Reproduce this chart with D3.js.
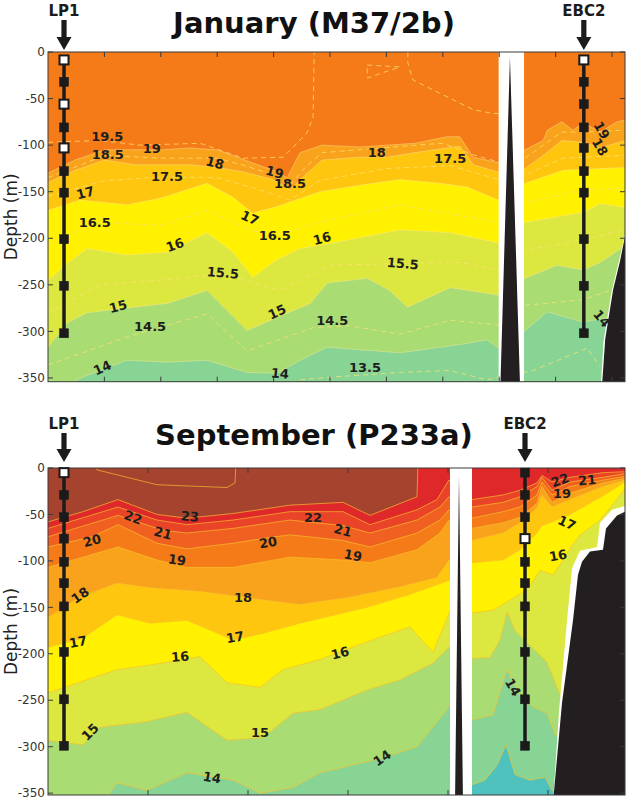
<!DOCTYPE html>
<html><head><meta charset="utf-8">
<script src="https://cdn.jsdelivr.net/npm/d3@7"></script>
<style>body{margin:0;background:#fff}svg{display:block}</style>
</head><body>
<svg id="chart" width="629" height="800"></svg>
<script>
// ================= DATA =================
// colour of each 1 degC temperature band, keyed by its lower bound
const bandColors = {12:"#4FC2BE",13:"#87D494",14:"#A9DC72",15:"#DCE73F",16:"#FFF100",17:"#FEC60F",
  18:"#F9A21B",19:"#F47B17",20:"#F06021",21:"#E94427",22:"#DF282A",23:"#A6432F"};
const yTicks = [0,-50,-100,-150,-200,-250,-300,-350];

// ---- January (M37/2b) : isotherms as [distance km, depth m] ----
const janTitle = "January (M37/2b)";
const janIso19 = [[0,-130],[4.8,-116],[10.1,-105],[15.4,-105],[20.2,-105],[25.2,-103],[30,-105],[34.9,-116],[39.9,-127],[42.4,-135],[44.7,-108],[48.6,-100],[55.3,-102],[60.1,-100],[65.1,-98],[70.7,-91],[73,-91],[75.4,-113],[79.9,-119],[84.6,-105],[87.8,-95],[88.5,-84],[91.1,-75],[93.1,-84],[94.9,-76],[97.9,-86],[100.9,-75],[102.3,-73]];
const janIso18 = [[0,-140],[4.8,-127],[10.1,-116],[15.4,-121],[20.2,-121],[25.2,-121],[30,-124],[34.9,-129],[39.9,-137],[42.9,-148],[45.6,-132],[48.6,-116],[55.3,-113],[60.1,-113],[65.1,-108],[70.7,-103],[73,-101],[75.4,-121],[79.9,-129],[84.6,-125],[87.8,-111],[91.1,-95],[94.9,-97],[97.9,-103],[102.3,-95]];
const janIso17 = [[0,-170],[5.7,-159],[14,-164],[19.9,-157],[28.2,-141],[32.8,-156],[36.3,-173],[40.6,-166],[48.2,-150],[55.3,-143],[62.4,-137],[69.5,-141],[74.3,-145],[79.9,-159],[84.6,-141],[91.3,-127],[102.3,-124]];
const janIso16 = [[0,-245],[3.4,-227],[6.9,-211],[14,-218],[21.1,-215],[28.2,-194],[32.8,-215],[36.3,-242],[40.6,-223],[44.7,-211],[50.5,-205],[62.4,-191],[71.3,-194],[79.9,-205],[84.6,-183],[94.9,-172],[97.9,-163],[102.3,-167]];
const janIso15 = [[0,-317],[3.4,-291],[6.9,-280],[15.1,-274],[21.1,-270],[28.2,-256],[35.3,-299],[40.6,-285],[46.5,-270],[49.5,-248],[56.6,-243],[60.6,-256],[63.7,-274],[71.3,-253],[79.9,-261],[84.6,-243],[90.2,-229],[94.9,-234],[97.9,-226],[102.3,-208]];
const janIso14 = [[0,-368],[6.2,-349],[14,-331],[21.1,-333],[28.2,-331],[35.3,-344],[40.6,-345],[44.7,-331],[49.5,-317],[62.4,-323],[74.3,-313],[77.8,-309],[79.9,-318],[84.6,-299],[88.5,-279],[94.9,-290],[99.6,-285],[102.3,-285]];
// dashed half-degree isotherms
const janHalf195a = [[0,-97],[9.2,-95],[16.3,-100],[27,-98],[34.6,-114],[41.7,-113],[45.9,-87],[47,-70],[47.2,0]];
const janHalf195b = [[63.8,0],[63.8,-12],[64.7,-30],[75.4,-62],[78.9,-66],[79.9,-66]];
const janHalf195c = [[56.6,-14],[62.4,-16],[56.6,-28],[56.6,-14]];
const janHalf185 = [[0,-135],[10.1,-111],[19.9,-114],[30,-114],[34.9,-122],[39.9,-132],[42.9,-143],[45.6,-124],[48.6,-108],[55.3,-105],[65.1,-100],[70,-98],[75.7,-111],[79.9,-118],[84.6,-114],[87.8,-100],[91.1,-86],[94.9,-86],[102.3,-84]];
const janHalf175 = [[0,-155],[10.1,-138],[21.1,-134],[30,-135],[37.6,-148],[42.9,-159],[48.2,-138],[60.1,-125],[71.3,-122],[79.9,-137],[84.6,-132],[91.3,-114],[102.3,-111]];
const janHalf165 = [[0,-207],[8.3,-183],[19.9,-186],[28.2,-170],[35.8,-191],[40.2,-197],[48.2,-183],[62.4,-164],[79.9,-183],[84.6,-162],[94.9,-148],[102.3,-146]];
const janHalf155 = [[0,-280],[9.2,-250],[19.9,-245],[31,-238],[41.1,-256],[50,-229],[62.9,-227],[73.1,-226],[79.9,-234],[84.6,-213],[94.9,-202],[102.3,-190]];
const janHalf145 = [[0,-336],[14,-306],[28.2,-281],[35.3,-321],[47,-296],[53.5,-294],[62.4,-303],[71.3,-288],[79.9,-293],[84.6,-272],[94.9,-266],[99.6,-256]];
const janHalf135 = [[44.7,-352],[50.5,-349],[62.4,-344],[71.3,-342],[77.8,-352],[86,-342],[95.6,-318],[97.9,-338]];
// contour labels: [text, km, depth, rotation]
const janLabels = [["19.5",10.5,-91,0],["18.5",10.6,-110,0],["19",18.4,-103,0],["18",29.6,-119,15],["19",40.2,-129,15],
  ["18.5",42.9,-141,0],["17.5",21.1,-134,0],["17",6.6,-151,-15],["16.5",8.3,-183,0],["17",35.8,-178,25],["16.5",40.2,-197,0],
  ["16",22.5,-207,-20],["15.5",31,-237,5],["15",12.4,-273,-15],["14.5",18.1,-294,0],["15",40.6,-279,-25],["14",9.6,-339,-25],
  ["14",41.1,-345,5],["18",58.3,-108,0],["17.5",71.3,-114,0],["19",98.2,-84,60],["18",97.9,-102,60],["16",48.6,-200,-15],
  ["15.5",62.9,-227,5],["14.5",50.4,-288,0],["13.5",56.2,-339,0],["14",98.2,-286,50]];
const janGap = [79.9, 84.4];
const janSpike = [[81.9,-6],[83.7,-360],[80.2,-360]];
const janBathyEdge = [[102.3,-196],[101.2,-225],[99.9,-258],[98.5,-310],[98.0,-360],[102.3,-360]];
const janBathy = [[102.3,-198],[101.4,-225],[100.2,-255],[98.8,-308],[98.2,-360],[102.3,-360]];
const janLP1 = {name:"LP1", km:2.84, depths:[-8.5,-32,-56,-81,-103,-128,-151,-201,-251,-302], open:[0,2,4]};
const janEBC2 = {name:"EBC2", km:95.0, depths:[-8.5,-32,-56,-81,-103,-128,-151,-201,-251,-302], open:[0]};

// ---- September (P233a) ----
const sepTitle = "September (P233a)";
const sepIso24 = [[0,6],[4.8,6],[4.9,-2],[10.9,-18],[17.9,-21],[18.7,-16],[18.8,6],[57.7,6]];
const sepIso23 = [[0,-58],[3.5,-47],[7,-34],[10.9,-50],[13.9,-54],[18.5,-49],[24.2,-40],[29.5,-37],[32.2,-51],[36.9,-31],[37,6],[57.7,6]];
const sepIso22 = [[0,-65],[7,-42],[10.9,-56],[13.9,-61],[18.5,-56],[24.2,-47],[29.5,-47],[32.2,-61],[36.9,-45],[38.9,-34],[40.1,-13],[42.4,-34],[45.5,-29],[47.2,-24],[48.9,-16],[49.4,-8],[50.4,-15],[52.2,-10],[55.5,-5],[57.7,-4]];
const sepIso21 = [[0,-74],[7,-51],[11.5,-67],[13.9,-70],[18.5,-65],[24.2,-56],[29.5,-62],[32.2,-70],[36.9,-56],[39.2,-42],[40.1,-31],[42.4,-42],[45.5,-37],[47.2,-31],[48.9,-20],[49.4,-10],[50.4,-24],[52.2,-15],[55.5,-10],[57.7,-6]];
const sepIso20 = [[0,-85],[4.4,-74],[7,-61],[10.9,-81],[13.9,-87],[18.5,-81],[22,-75],[24.2,-72],[29.5,-78],[32.2,-85],[36.9,-70],[39.2,-56],[40.1,-45],[42.4,-54],[45.5,-47],[47.2,-42],[48.9,-29],[49.4,-15],[50.4,-29],[52.2,-20],[55.5,-13],[57.7,-9]];
const sepIso19 = [[0,-107],[7,-85],[10.9,-99],[13.9,-107],[18.5,-107],[24.2,-96],[29.5,-99],[32.2,-102],[36.9,-88],[39.2,-70],[40.1,-56],[42.4,-65],[45.5,-59],[47.2,-53],[48.9,-38],[49.4,-20],[50.4,-37],[52.2,-27],[55.5,-16],[57.7,-11]];
const sepIso18 = [[0,-161],[3.2,-139],[6.9,-124],[10.2,-129],[15.2,-133],[19.5,-139],[21.5,-142],[25.2,-147],[30.2,-139],[35.2,-128],[38.9,-118],[40.1,-99],[42.4,-78],[45.5,-70],[47.2,-59],[48.9,-43],[49.4,-29],[50.4,-42],[52.2,-34],[55.5,-20],[57.7,-13]];
const sepIso17 = [[0,-193],[3.5,-183],[6.9,-158],[10.2,-167],[13.9,-164],[18.5,-185],[21.5,-178],[25.2,-167],[31.9,-150],[36.2,-136],[40.1,-121],[42.4,-102],[45.5,-99],[47.2,-88],[48.9,-70],[49.4,-62],[50.4,-58],[52.2,-50],[55.5,-30],[57.7,-15]];
const sepIso16 = [[0,-242],[6.9,-217],[10.2,-212],[15.2,-203],[17.9,-231],[21.2,-236],[23.5,-217],[27.2,-206],[31.9,-187],[36.2,-171],[38.5,-198],[40.1,-156],[42.4,-156],[44.5,-153],[46.2,-142],[47.9,-131],[49.2,-110],[50.5,-115],[51.5,-99],[52.4,-83],[53.2,-72],[55.2,-56],[56.4,-40],[57.7,-22]];
const sepIso15 = [[0,-293],[3.5,-298],[5.2,-279],[9.9,-273],[13.9,-263],[17.9,-293],[21.5,-290],[24.5,-264],[27.2,-260],[31.9,-239],[35.2,-228],[38.5,-210],[40.1,-193],[42.4,-205],[44.2,-204],[45.2,-185],[45.9,-155],[46.7,-175],[48.2,-191],[49.9,-209],[51.2,-244],[52.2,-271],[57.7,-300]];
const sepIso14 = [[0,-365],[5.2,-365],[6.9,-339],[9.9,-347],[13.9,-328],[18.5,-336],[21.2,-350],[24.5,-344],[27.2,-328],[33.5,-312],[36.9,-300],[39.9,-260],[40.1,-255],[42.4,-271],[44.5,-266],[45.9,-217],[47.2,-246],[48.5,-257],[49.9,-264],[50.7,-287],[57.7,-320]];
const sepIso13 = [[0,-370],[40.1,-370],[42.4,-341],[43.7,-336],[44.9,-320],[45.8,-298],[46.7,-330],[48.2,-336],[49.7,-333],[50.4,-347],[57.7,-360]];
const sepLabels = [["22",8.5,-53,20],["23",14.2,-52,5],["21",11.5,-70,15],["20",4.4,-78,-15],["19",12.9,-99,8],
  ["22",26.5,-53,0],["21",29.5,-67,15],["20",22,-80,-10],["19",30.5,-94,10],["18",3.2,-137,-35],["18",19.5,-139,0],
  ["17",3,-187,-10],["17",18.7,-182,-10],["16",13.2,-203,-5],["16",29.2,-199,-15],["15",4.2,-284,-45],["15",21.2,-285,0],
  ["14",16.4,-333,10],["14",33.4,-312,-35],["22",51.2,-13,-20],["21",53.9,-13,-5],["19",51.4,-27,0],["17",51.9,-59,25],
  ["16",51,-94,-10],["14",46.5,-236,60]];
const sepGap = [40.2, 42.4];
const sepSpike = [[41.1,-8],[41.5,-360],[40.7,-360]];
const sepBathyEdge = [[57.7,-41],[56.4,-45],[55.2,-59],[54.9,-85],[53.2,-89],[52.4,-108],[51.9,-164],[51.1,-262],[50.5,-360],[57.7,-360]];
const sepBathy = [[57.7,-47],[56.9,-51],[55.8,-65],[55.5,-88],[54.2,-90],[53.4,-101],[53,-115],[52.5,-164],[51.4,-253],[50.5,-360],[57.7,-360]];
const sepLP1 = {name:"LP1", km:1.6, depths:[-5,-29,-53,-76,-101,-124,-149,-198,-249,-299], open:[0]};
const sepEBC2 = {name:"EBC2", km:47.7, depths:[-5,-29,-53,-76,-101,-124,-149,-198,-249,-299], open:[3]};

// ================= DRAWING =================
const svg = d3.select("#chart");
const FONT = "'DejaVu Sans', Verdana, sans-serif";

function drawPanel(o){
  const L=48, R=625;
  const g = svg.append("g");
  const x = d3.scaleLinear().domain(o.xDomain).range([L,R]);
  const y = d3.scaleLinear().domain(o.yDomain).range([o.top,o.bottom]);
  const clipId = "clip"+o.id;
  g.append("clipPath").attr("id",clipId).append("rect")
    .attr("x",L).attr("y",o.top).attr("width",R-L).attr("height",o.bottom-o.top);
  const plot = g.append("g").attr("clip-path",`url(#${clipId})`);
  plot.append("rect").attr("x",L).attr("y",o.top).attr("width",R-L).attr("height",o.bottom-o.top)
    .attr("fill",bandColors[o.topBand]);
  const area = d3.area().x(d=>x(d[0])).y0(y(-420)).y1(d=>y(d[1]));
  const line = d3.line().x(d=>x(d[0])).y(d=>y(d[1]));
  o.isos.forEach(([lvl,pts])=>{
    plot.append("path").datum(pts).attr("d",area).attr("fill",bandColors[lvl-1]);
  });
  o.isos.forEach(([lvl,pts])=>{
    plot.append("path").datum(pts).attr("d",line).attr("fill","none")
      .attr("stroke",o.isoStroke).attr("stroke-width",0.8).attr("stroke-opacity",o.isoOpacity);
  });
  o.dashes.forEach(pts=>{
    plot.append("path").datum(pts).attr("d",line).attr("fill","none")
      .attr("stroke","#FFE27A").attr("stroke-width",1).attr("stroke-opacity",0.75)
      .attr("stroke-dasharray","5,4");
  });
  // data gap and bathymetry
  plot.append("rect").attr("x",x(o.gap[0])).attr("y",o.top)
    .attr("width",x(o.gap[1])-x(o.gap[0])).attr("height",o.bottom-o.top).attr("fill","#fff");
  const poly = d3.line().x(d=>x(d[0])).y(d=>y(d[1]));
  plot.append("path").attr("d",poly(o.spike)+"Z").attr("fill","#231F20");
  plot.append("path").attr("d",poly(o.bathyEdge)+"Z").attr("fill","#fff");
  plot.append("path").attr("d",poly(o.bathy)+"Z").attr("fill","#231F20");

  // frame & ticks
  g.append("rect").attr("x",L).attr("y",o.top).attr("width",R-L).attr("height",o.bottom-o.top)
    .attr("fill","none").attr("stroke","#3a3a3a").attr("stroke-width",1);
  const tk = 5;
  yTicks.forEach(v=>{
    g.append("line").attr("x1",L).attr("x2",L+tk).attr("y1",y(v)).attr("y2",y(v)).attr("stroke","#3a3a3a");
    g.append("line").attr("x1",R).attr("x2",R-tk).attr("y1",y(v)).attr("y2",y(v)).attr("stroke","#3a3a3a");
    g.append("text").attr("x",45).attr("y",y(v)).attr("dy","0.35em").attr("text-anchor","end")
      .attr("font-family",FONT).attr("font-size",12).attr("fill","#333").text(String(v));
  });
  o.xTicks.forEach(v=>{
    g.append("line").attr("x1",x(v)).attr("x2",x(v)).attr("y1",o.top).attr("y2",o.top+tk).attr("stroke","#3a3a3a");
    g.append("line").attr("x1",x(v)).attr("x2",x(v)).attr("y1",o.bottom).attr("y2",o.bottom-tk).attr("stroke","#3a3a3a");
  });
  g.append("text").attr("transform",`translate(17,${(o.top+o.bottom)/2}) rotate(-90)`)
    .attr("text-anchor","middle").attr("font-family",FONT).attr("font-size",17).attr("fill","#222")
    .text("Depth (m)");

  // contour labels
  o.labels.forEach(([t,k,d,r])=>{
    g.append("text").attr("transform",`translate(${x(k)},${y(d)}) rotate(${r})`)
      .attr("text-anchor","middle").attr("dy","0.36em")
      .attr("font-family",FONT).attr("font-weight","bold").attr("font-size",13).attr("fill","#1e1e1e").text(t);
  });

  // moorings
  o.moorings.forEach(m=>{
    const mx = x(m.km);
    g.append("line").attr("x1",mx).attr("x2",mx).attr("y1",y(m.depths[0])).attr("y2",y(m.depths[m.depths.length-1]))
      .attr("stroke","#1b1b1b").attr("stroke-width",3.5);
    m.depths.forEach((d,i)=>{
      const open = m.open.includes(i);
      g.append("rect").attr("x",mx-4.5).attr("y",y(d)-4.5).attr("width",9).attr("height",9)
        .attr("fill",open?"#fff":"#1b1b1b").attr("stroke","#1b1b1b").attr("stroke-width",open?2:0.5);
    });
    const a = o.arrow;
    g.append("path").attr("d",
      `M${mx-2.6},${a.shaft0} L${mx+2.6},${a.shaft0} L${mx+2.6},${a.head0} L${mx+7.5},${a.head0} L${mx},${a.tip} L${mx-7.5},${a.head0} L${mx-2.6},${a.head0} Z`)
      .attr("fill","#1b1b1b");
    g.append("text").attr("x",mx).attr("y",a.text).attr("text-anchor","middle")
      .attr("font-family",FONT).attr("font-weight","bold").attr("font-size",15).attr("fill","#1b1b1b").text(m.name);
  });

  // title
  g.append("text").attr("x",314).attr("y",o.titleY).attr("text-anchor","middle")
    .attr("font-family",FONT).attr("font-weight","bold").attr("font-size",29).attr("fill","#111").text(o.title);
}

drawPanel({id:"jan", title:janTitle, titleY:33, top:52, bottom:381.7,
  xDomain:[0,102.3], yDomain:[0,-354], xTicks:d3.range(10,101,10),
  topBand:19, isos:[[19,janIso19],[18,janIso18],[17,janIso17],[16,janIso16],[15,janIso15],[14,janIso14]],
  isoStroke:"#FFE9A0", isoOpacity:0.55,
  dashes:[janHalf195a,janHalf195b,janHalf195c,janHalf185,janHalf175,janHalf165,janHalf155,janHalf145,janHalf135],
  gap:janGap, spike:janSpike, bathyEdge:janBathyEdge, bathy:janBathy, labels:janLabels,
  moorings:[janLP1,janEBC2], arrow:{text:16, shaft0:20, head0:37, tip:50}});

drawPanel({id:"sep", title:sepTitle, titleY:445, top:468, bottom:795,
  xDomain:[0,57.7], yDomain:[0,-352], xTicks:d3.range(10,51,10),
  topBand:23, isos:[[24,sepIso24],[23,sepIso23],[22,sepIso22],[21,sepIso21],[20,sepIso20],[19,sepIso19],[18,sepIso18],[17,sepIso17],[16,sepIso16],[15,sepIso15],[14,sepIso14],[13,sepIso13]],
  isoStroke:"#F9C030", isoOpacity:0.85,
  dashes:[], gap:sepGap, spike:sepSpike, bathyEdge:sepBathyEdge, bathy:sepBathy, labels:sepLabels,
  moorings:[sepLP1,sepEBC2], arrow:{text:429, shaft0:433, head0:449, tip:462}});
</script>
</body></html>
